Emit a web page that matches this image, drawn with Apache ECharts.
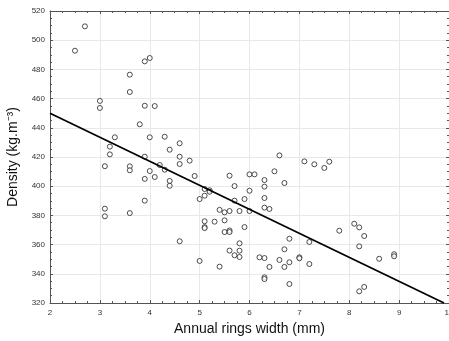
<!DOCTYPE html>
<html>
<head>
<meta charset="utf-8">
<script src="https://cdn.jsdelivr.net/npm/echarts@6/dist/echarts.min.js"></script>
<style>
  html, body { margin: 0; padding: 0; background: #fff; }
  #chart { width: 449px; height: 341px; }
</style>
</head>
<body>
<div id="chart"></div>
<script>
// ring width (mm) vs density
const ringWidth = [
  2.5, 2.7, 3.0, 3.0, 3.6, 3.6, 3.9, 4.0, 3.9, 4.1, 3.8, 3.3, 4.0, 4.3, 3.2, 3.2,
  4.4, 4.6, 4.6, 4.6, 4.8, 3.9, 4.2, 3.1, 3.6, 3.6, 4.3, 4.0, 3.9, 4.1, 4.4, 4.4,
  4.9, 5.6, 5.1, 5.2, 5.2, 5.1, 5.0, 3.9, 3.1, 3.1, 3.6, 4.6, 5.0, 5.4, 5.1, 5.1,
  5.1, 5.3, 5.4, 5.5, 5.6, 5.5, 5.5, 5.6, 6.0, 6.1, 6.5, 6.3, 6.3, 6.7, 5.7, 6.0,
  5.9, 6.3, 5.7, 5.8, 6.0, 6.3, 6.4, 5.6, 5.6, 5.9, 5.8, 5.8, 5.7, 5.8, 6.2, 6.3,
  6.6, 6.7, 6.8, 6.4, 6.7, 6.8, 6.3, 6.3, 6.8, 7.0, 7.0, 7.2, 7.2, 7.8, 8.1, 8.2,
  8.3, 8.2, 8.2, 8.3, 8.6, 8.9, 8.9, 6.6, 7.1, 7.3, 7.6, 7.5
];
const density = [
  492.8, 509.5, 458.4, 453.6, 476.4, 464.5, 485.5, 487.8, 455.1, 454.9, 442.4, 433.5, 433.5, 433.9, 427.1, 421.8,
  425.0, 429.4, 420.2, 415.2, 417.5, 420.2, 414.5, 413.7, 413.6, 410.9, 411.3, 410.4, 405.0, 406.3, 403.6, 400.3,
  407.0, 407.2, 398.1, 397.2, 396.2, 393.5, 391.2, 390.1, 384.6, 379.4, 381.6, 362.3, 348.8, 344.9, 376.0, 372.0,
  371.3, 375.7, 383.8, 382.1, 383.0, 376.6, 368.6, 355.9, 408.1, 408.1, 410.2, 404.2, 399.7, 402.2, 400.1, 396.9,
  391.2, 391.9, 390.1, 383.0, 383.0, 385.3, 384.4, 369.7, 368.6, 372.0, 360.9, 355.8, 352.7, 351.5, 351.3, 350.8,
  349.5, 356.8, 364.0, 344.7, 344.7, 347.9, 337.6, 336.4, 333.0, 351.3, 350.6, 361.8, 346.7, 369.5, 374.3, 371.8,
  365.9, 358.8, 328.0, 331.0, 350.3, 353.4, 352.0, 421.1, 417.0, 415.0, 416.8, 412.5
];

// fitted line end points
const fitX = [2, 9.9];
const fitY = [450, 320];

const points = ringWidth.map((x, i) => [x, density[i]]);
const fitLine = fitX.map((x, i) => [x, fitY[i]]);

const frameColor = '#555';
const labelFont = { fontFamily: 'Liberation Sans', fontSize: 8, color: '#333' };

function axisBase(extra) {
  return Object.assign({
    type: 'value',
    axisLine: { show: true, onZero: false, lineStyle: { color: frameColor, width: 1 } },
    axisTick: { show: true, inside: true, length: 3, lineStyle: { color: frameColor } },
    minorTick: { show: true, splitNumber: 4, length: 2, lineStyle: { color: frameColor } },
    splitLine: { show: false },
    axisLabel: { show: false }
  }, extra);
}

const chart = echarts.init(document.getElementById('chart'), null, { renderer: 'canvas' });
chart.setOption({
  animation: false,
  backgroundColor: '#fff',
  grid: { left: 50, right: 0, top: 11, bottom: 38, containLabel: false, outerBoundsMode: 'none' },
  xAxis: [
    axisBase({
      min: 2, max: 10, interval: 1, position: 'bottom',
      name: 'Annual rings width (mm)', nameLocation: 'middle', nameGap: 16,
      nameTextStyle: { fontFamily: 'Liberation Sans', fontSize: 14, color: '#111' },
      splitLine: { show: true, lineStyle: { color: '#e8e8e8', width: 1 } },
      axisLabel: Object.assign({ show: true, margin: 6, hideOverlap: false }, labelFont)
    }),
    axisBase({ min: 2, max: 10, interval: 1, position: 'top' })
  ],
  yAxis: [
    axisBase({
      min: 320, max: 520, interval: 20, position: 'left',
      name: 'Density (kg.m⁻³)', nameLocation: 'middle', nameGap: 30,
      nameTextStyle: { fontFamily: 'Liberation Sans', fontSize: 14, color: '#111' },
      splitLine: { show: true, lineStyle: { color: '#e8e8e8', width: 1 } },
      axisLabel: Object.assign({ show: true, margin: 5 }, labelFont)
    }),
    axisBase({ min: 320, max: 520, interval: 20, position: 'right' })
  ],
  series: [
    {
      type: 'scatter',
      data: points,
      symbol: 'circle',
      symbolSize: 5,
      itemStyle: { color: '#fff', borderColor: '#222', borderWidth: 1 },
      z: 3
    },
    {
      type: 'line',
      data: fitLine,
      showSymbol: false,
      lineStyle: { color: '#000', width: 1.8 },
      z: 4
    }
  ]
});
</script>
</body>
</html>
